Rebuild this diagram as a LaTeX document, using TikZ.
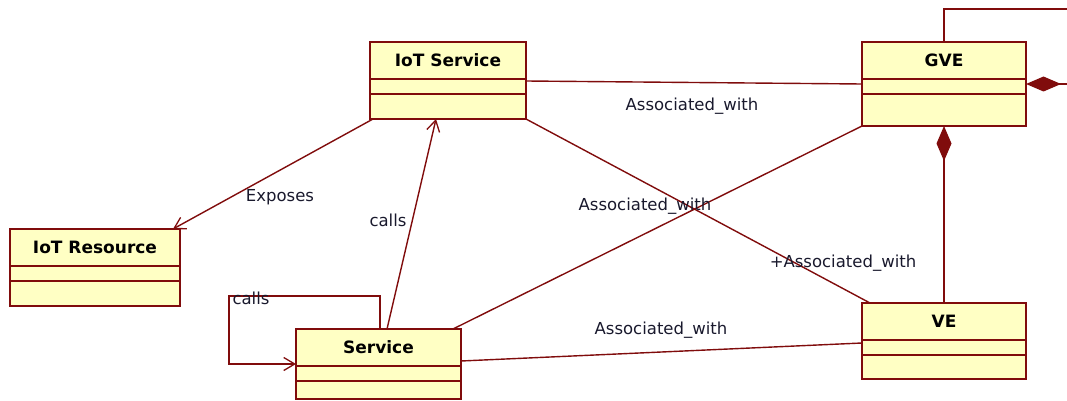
\documentclass[tikz,border=0pt]{standalone}
\usepackage{fontspec}
\setmainfont{DejaVu Sans}
\usetikzlibrary{arrows.meta,calc}
\definecolor{umlred}{RGB}{128,12,12}
\definecolor{umlfill}{RGB}{255,255,196}
\definecolor{umltext}{RGB}{25,25,45}

% A UML class: name, title, left, top, right, bottom (y grows downward)
\newcommand\classbox[6]{%
  \pgfmathsetmacro\cbw{#5-#3}\pgfmathsetmacro\cbh{#6-#4}%
  \node[clsbox, minimum width=\cbw pt, minimum height=\cbh pt, anchor=north west] (#1) at (#3,#4) {};
  \node[clstitle] (#1-t) at ($(#1.north)+(0,18.5)$) {#2};
  \draw[clsline] ($(#1.north west)+(0,37)$) -- ($(#1.north east)+(0,37)$);
  \draw[clsline] ($(#1.north west)+(0,52)$) -- ($(#1.north east)+(0,52)$);
}

\begin{document}
\begin{tikzpicture}[x=1pt,y=-1pt,
  clsbox/.style={draw=umlred, fill=umlfill, line width=1.8pt, inner sep=0pt, outer sep=0pt},
  clstitle/.style={font=\fontsize{17}{20}\selectfont\bfseries, text=black, inner sep=0pt},
  clsline/.style={draw=umlred, line width=1.6pt},
  link/.style={draw=umlred, line width=1.4pt},
  navarrow/.style={link, -{Straight Barb[length=11pt,width=13pt,line width=1.3pt]}},
  comp/.style={link, {Diamond[length=35pt,width=15pt,fill=umlred]}-},
  lbl/.style={font=\fontsize{16.5}{19}\selectfont, text=umltext, inner sep=0pt},
]
\useasboundingbox (0,0) rectangle (1067,401);

% classes
\classbox{iots}{IoT Service}{370}{42}{526}{119}
\classbox{gve}{GVE}{862}{42}{1026}{126}
\classbox{ve}{VE}{862}{303}{1026}{379}
\classbox{serv}{Service}{296}{329}{461}{399}
\classbox{iotres}{IoT Resource}{10}{229}{180}{306}

% free ends of the GVE self-composition (leaves the drawing area)
\coordinate (selfA) at (1067,9);
\coordinate (selfB) at (1067,84);

% associations
\draw[link] ($(iots.north east)+(0,39)$) -- ($(gve.north west)+(0,42)$);
\draw[link] (iots.south east) -- ($(ve.north west)+(8,0)$);
\draw[link] ($(serv.north east)+(-8,0)$) -- (gve.south west);
\draw[link] ($(serv.north east)+(0,32)$) -- ($(ve.north west)+(0,40)$);

% navigable associations
\draw[navarrow] ($(iots.south west)+(3,0)$) -- ($(iotres.north east)+(-7,0)$);
\draw[navarrow] ($(serv.north west)+(91,0)$) -- ($(iots.south west)+(66,0)$);
\draw[navarrow] ($(serv.north west)+(84,0)$) |- (229,296) |- ($(serv.north west)+(0,35)$);

% compositions
\draw[comp] (gve.south) -- (ve.north);
\draw[comp] (gve.east) -- (selfB);
\draw[link] (gve.north) |- (selfA);

% labels
\node[lbl] (l1) at (692,106) {Associated\_with};
\node[lbl] (l2) at (280,197) {Exposes};
\node[lbl] (l3) at (388,220) {calls};
\node[lbl] (l4) at (645,206) {Associated\_with};
\node[lbl] (l5) at (843,263) {+Associated\_with};
\node[lbl] (l6) at (661,330) {Associated\_with};
\node[lbl] (l7) at (251,298) {calls};
\end{tikzpicture}
\end{document}
